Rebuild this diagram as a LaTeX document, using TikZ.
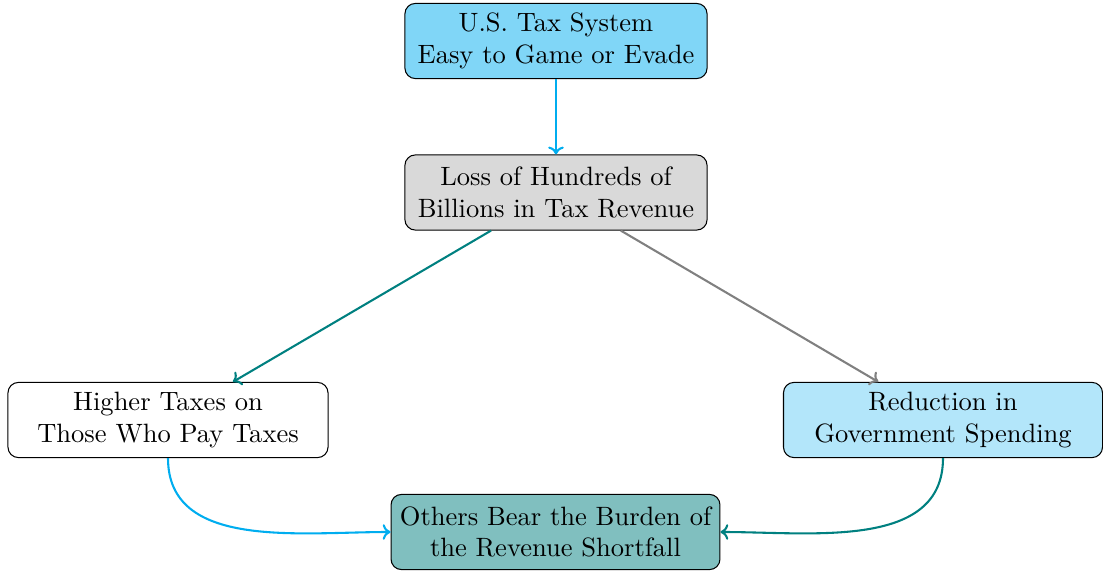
\documentclass[tikz,border=0pt]{standalone}
\usepackage{fontspec}
\usetikzlibrary{arrows.meta}
\begin{document}
\begin{tikzpicture}[x=0.38462pt, y=-0.38462pt,
  box/.style={draw=black, rounded corners=4pt, align=center, inner sep=0pt,
              minimum height=28.9pt, font=\fontsize{10.2pt}{12.2pt}\selectfont},
  link/.style={-{To[length=3pt,width=6pt]}, thick}]
\useasboundingbox (0,0) rectangle (1103,571);

\node[box, fill=cyan!50, minimum width=116.2pt] (sys) at (556,41)
  {U.S. Tax System\\Easy to Game or Evade};
\node[box, fill=gray!30, minimum width=116.2pt] (loss) at (556,192.5)
  {Loss of Hundreds of\\Billions in Tax Revenue};
\node[box, fill=white, minimum width=123.1pt] (higher) at (168,420)
  {Higher Taxes on\\Those Who Pay Taxes};
\node[box, fill=cyan!30, minimum width=122.7pt] (cut) at (943,420)
  {Reduction in\\Government Spending};
\node[box, fill=teal!50, minimum width=126.5pt] (burden) at (555.5,532)
  {Others Bear the Burden of\\the Revenue Shortfall};

\draw[link, cyan] (sys) -- (loss);
\draw[link, teal] (loss) -- (higher);
\draw[link, gray] (loss) -- (cut);
\draw[link, cyan] (higher.south) to[out=-90, in=180] (burden.west);
\draw[link, teal] (cut.south) to[out=-90, in=0] (burden.east);
\end{tikzpicture}
\end{document}
